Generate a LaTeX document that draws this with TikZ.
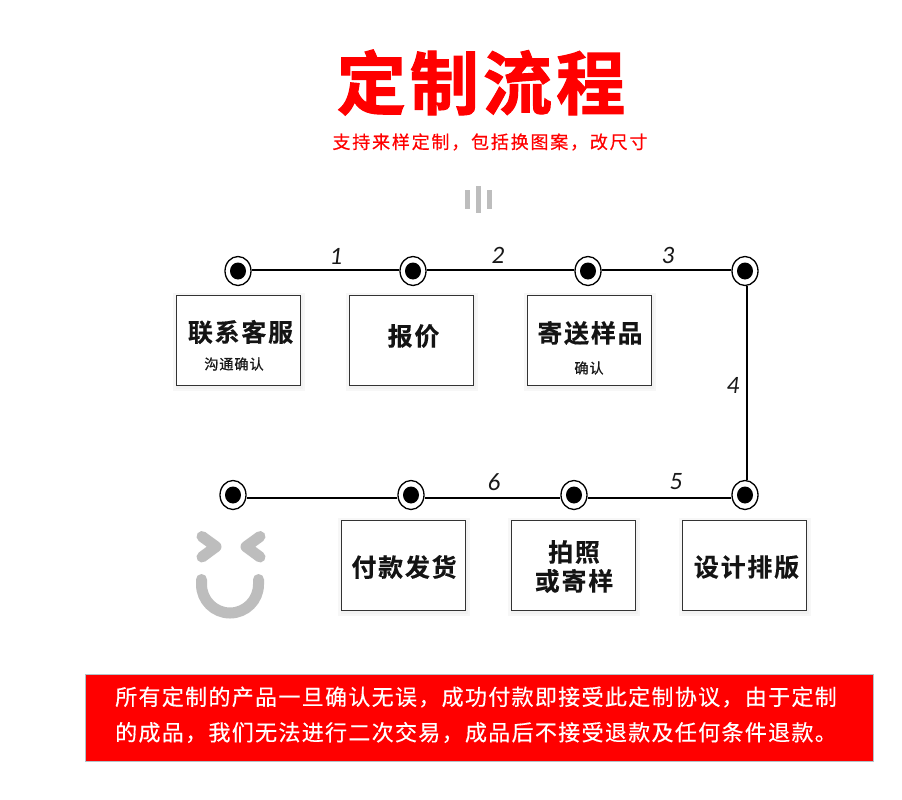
\documentclass[tikz,border=0pt]{standalone}
\usepackage{fontspec}
\usetikzlibrary{shadows,shapes.geometric}
\setmainfont{Carlito}
\newfontfamily\cjktitle[FakeBold=1.6,LetterSpace=6]{Noto Sans CJK SC Bold}
\newfontfamily\cjksub[FakeBold=.5,LetterSpace=10]{Noto Sans CJK SC}
\newfontfamily\cjkbox[LetterSpace=7,FakeBold=.3]{Noto Sans CJK SC Bold}
\newfontfamily\cjksmall[LetterSpace=6,FakeBold=.8]{Noto Sans CJK SC}
\newfontfamily\cjkban[FakeBold=.35,LetterSpace=6]{Noto Sans CJK SC}
\definecolor{ired}{HTML}{FF0000}
\definecolor{igray}{HTML}{BDBDBD}
\definecolor{iedge}{HTML}{B4C2C8}
\tikzset{
  dot/.style={ellipse,draw=black,line width=1.3pt,fill=white,minimum width=26pt,minimum height=29pt,inner sep=0pt,
    path picture={\fill[black] (path picture bounding box.center) ellipse (8pt and 8.5pt);}},
  stage/.style={draw=black!80,line width=1pt,fill=white,minimum width=124pt,minimum height=90pt,inner sep=0pt,
    preaction={draw=black!3,line width=8pt,transform canvas={xshift=1pt,yshift=-2pt}},
    preaction={draw=black!5,line width=3pt,transform canvas={xshift=1pt,yshift=-2pt}}},
  big/.style={font=\cjkbox\fontsize{25}{29}\selectfont,text=black!92,align=center,inner sep=0pt},
  small/.style={font=\cjksmall\fontsize{14.2}{16}\selectfont,text=black!90,inner sep=0pt},
  link/.style={line width=2pt,black},
  num/.style={font=\itshape\fontsize{25}{26}\selectfont,inner sep=0pt,text=black!90},
  bars/.style={igray,line width=5pt},
  face/.style={igray,line width=11pt,line cap=round,line join=round,fill=none},
  bantext/.style={font=\cjkban\fontsize{22}{24}\selectfont,text=white,inner sep=0pt,anchor=west},
}
\begin{document}
\begin{tikzpicture}[x=1pt,y=-1pt]
\useasboundingbox (0,0) rectangle (902,800);
\fill[white] (0,0) rectangle (902,800);
\node[font=\cjktitle\fontsize{69}{80}\selectfont,text=ired,inner sep=0pt] (title) at (481,82.5) {定制流程};
\node[font=\cjksub\fontsize{18}{20}\selectfont,text=ired,inner sep=0pt] (subtitle) at (490,142) {支持来样定制，包括换图案，改尺寸};
\draw[bars] (467.5,190) -- (467.5,209);
\draw[bars] (478.5,186) -- (478.5,213);
\draw[bars] (489.5,190) -- (489.5,209);

\node[dot] (d1) at (238,271) {};
\node[dot] (d2) at (413,271) {};
\node[dot] (d3) at (588,271) {};
\node[dot] (d4) at (745,271) {};
\node[dot] (d5) at (745,495) {};
\node[dot] (d6) at (574,495) {};
\node[dot] (d7) at (411,495) {};
\node[dot] (d8) at (233,495) {};
\draw[link,transform canvas={yshift=1pt}] (d1) -- (d2);
\draw[link,transform canvas={yshift=1pt}] (d2) -- (d3);
\draw[link,transform canvas={yshift=1pt}] (d3) -- (d4);
\draw[link,transform canvas={xshift=1.5pt}] (d4) -- (d5);
\draw[link,transform canvas={yshift=-2.5pt}] (d5) -- (d6);
\draw[link,transform canvas={yshift=-2.5pt}] (d6) -- (d7);
\draw[link,transform canvas={yshift=-2.5pt}] (d7) -- (d8);

\node[num] (n1) at (336,256) {1};
\node[num] (n2) at (498,255) {2};
\node[num] (n3) at (668,255) {3};
\node[num] (n4) at (733,385) {4};
\node[num] (n5) at (676,482) {5};
\node[num] (n6) at (494,482) {6};

\node[stage] (b1) at (238,340) {};
\node[stage] (b2) at (411,340) {};
\node[stage] (b3) at (589,340) {};
\node[stage] (b4) at (744,565) {};
\node[stage] (b5) at (573,565) {};
\node[stage] (b6) at (403,565) {};
\node[big] (t1) at (240.5,332) {联系客服};
\node[small] (s1) at (234,364) {沟通确认};
\node[big] (t2) at (413.5,336) {报价};
\node[big] (t3) at (590,333) {寄送样品};
\node[small] (s3) at (589,368) {确认};
\node[big] (t4) at (746.5,567) {设计排版};
\node[big] (t5) at (574,566.5) {拍照\\或寄样};
\node[big] (t6) at (404,567) {付款发货};

\draw[face] (202,536.5) -- (216,546.7) -- (202,557);
\draw[face] (260,536.5) -- (246,546.7) -- (260,557);
\draw[face] (201.5,579.5) -- (201.5,584.5) arc (180:0:28.5) -- (258.5,579.5);

\draw[fill=ired,draw=iedge,line width=1pt] (85.5,674) rectangle (873,761);
\node[bantext] (l1) at (115,697) {所有定制的产品一旦确认无误，成功付款即接受此定制协议，由于定制};
\node[bantext] (l2) at (115,732.5) {的成品，我们无法进行二次交易，成品后不接受退款及任何条件退款。};
\end{tikzpicture}
\end{document}
